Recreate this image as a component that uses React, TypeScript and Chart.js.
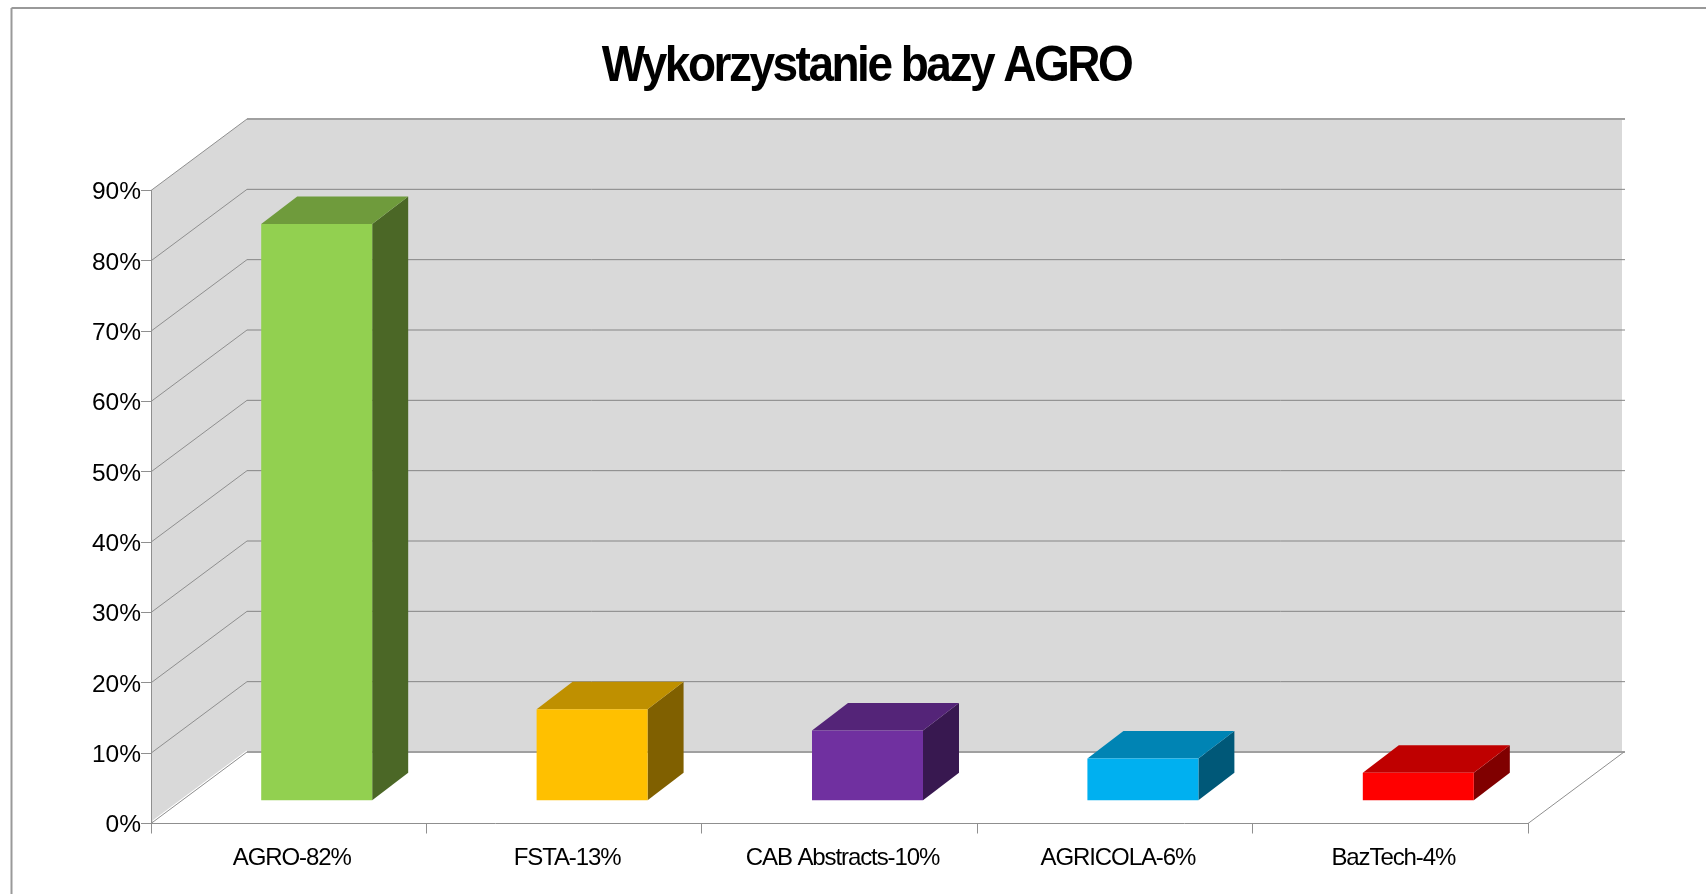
import React, { useEffect, useRef } from "react";
import { Chart, registerables } from "chart.js";

Chart.register(...registerables);

const categories = ["AGRO-82%", "FSTA-13%", "CAB Abstracts-10%", "AGRICOLA-6%", "BazTech-4%"];
const usageValues = [82, 13, 10, 6, 4];
const titleText = "Wykorzystanie bazy AGRO";

const frontColors = ["#92d050", "#ffc000", "#7030a0", "#00b0f0", "#ff0000"];
const topColors = ["#6f9b3c", "#bf9000", "#542478", "#0084b4", "#bf0000"];
const sideColors = ["#4b6726", "#806000", "#381850", "#005878", "#800000"];

const FONT = '"Liberation Sans", Arial, sans-serif';
const WALL = { dx: 96, dy: 71.5 };
const BAR_SHIFT = { dx: 28, dy: -22.7 };
const BAR_DEPTH = { dx: 36, dy: 27.5 };
const LINE = "#8f8f8f";

function poly(ctx: CanvasRenderingContext2D, pts: number[][], fill: string) {
  ctx.beginPath();
  pts.forEach(([x, y], i) => (i ? ctx.lineTo(x, y) : ctx.moveTo(x, y)));
  ctx.closePath();
  ctx.fillStyle = fill;
  ctx.fill();
}

function seg(ctx: CanvasRenderingContext2D, x1: number, y1: number, x2: number, y2: number, color: string, w = 1) {
  ctx.beginPath();
  ctx.moveTo(x1, y1);
  ctx.lineTo(x2, y2);
  ctx.strokeStyle = color;
  ctx.lineWidth = w;
  ctx.stroke();
}

const pseudo3d = {
  id: "pseudo3d",
  beforeDraw(chart: any) {
    const { ctx, chartArea: a, scales } = chart;
    const yS = scales.y;
    const xS = scales.x;
    ctx.save();
    seg(ctx, 11.5, 8, 1706, 8, "#999999", 2);
    seg(ctx, 11.5, 8, 11.5, 894, "#999999", 2);
    const yTop = yS.getPixelForValue(90);
    const yBase = yS.getPixelForValue(0);
    const backL = a.left + WALL.dx;
    const backR = a.right + WALL.dx;
    poly(ctx, [[a.left, yTop], [backL, yTop - WALL.dy], [backL, yBase - WALL.dy], [a.left, yBase]], "#d9d9d9");
    poly(ctx, [[backL, yTop - WALL.dy], [backR - 2, yTop - WALL.dy], [backR - 2, yBase - WALL.dy], [backL, yBase - WALL.dy]], "#d9d9d9");
    seg(ctx, a.left + 2, yBase - 2.5, backL, yBase - WALL.dy - 1, "#ffffff", 1.5);
    yS.ticks.forEach((t: any) => {
      const y = yS.getPixelForValue(t.value);
      const edge = t.value === 0 || t.value === 90;
      seg(ctx, a.left, y, backL, y - WALL.dy, LINE, 1);
      seg(ctx, backL, y - WALL.dy, backR + 1, y - WALL.dy, edge ? "#a0a0a0" : "#858585", edge ? 1.8 : 1);
    });
    seg(ctx, a.right, yBase, backR, yBase - WALL.dy, LINE, 1);
    if (!chart.$wrapped) {
      chart.$wrapped = true;
      const drawXLabels = xS.drawLabels;
      xS.drawLabels = function (area: any) {
        ctx.save();
        ctx.letterSpacing = "-1.1px";
        ctx.translate(3, 0);
        drawXLabels.call(this, area);
        ctx.restore();
      };
      const drawYLabels = yS.drawLabels;
      yS.drawLabels = function (area: any) {
        ctx.save();
        ctx.translate(0, 2.2);
        drawYLabels.call(this, area);
        ctx.restore();
      };
      const tb = chart.titleBlock;
      const drawTitle = tb.draw;
      tb.draw = function () {
        ctx.save();
        ctx.letterSpacing = "-2.5px";
        ctx.translate(102.5, 67.5);
        ctx.scale(1, 1.09);
        ctx.translate(0, -65);
        drawTitle.call(this);
        ctx.restore();
      };
    }
    ctx.restore();
  },
  beforeDatasetsDraw(chart: any) {
    const { ctx } = chart;
    ctx.save();
    ctx.translate(BAR_SHIFT.dx, BAR_SHIFT.dy);
    const meta = chart.getDatasetMeta(0);
    meta.data.forEach((bar: any, i: number) => {
      const { x, y, base, width } = bar.getProps(["x", "y", "base", "width"]);
      const l = x - width / 2;
      const r = x + width / 2;
      poly(ctx, [[r, y], [r + BAR_DEPTH.dx, y - BAR_DEPTH.dy], [r + BAR_DEPTH.dx, base - BAR_DEPTH.dy], [r, base]], sideColors[i]);
      poly(ctx, [[l, y], [l + BAR_DEPTH.dx, y - BAR_DEPTH.dy], [r + BAR_DEPTH.dx, y - BAR_DEPTH.dy], [r, y]], topColors[i]);
    });
  },
  afterDatasetsDraw(chart: any) {
    chart.ctx.restore();
  },
};

export default function App() {
  const ref = useRef<HTMLCanvasElement | null>(null);
  useEffect(() => {
    const chart = new Chart(ref.current as HTMLCanvasElement, {
      type: "bar",
      data: {
        labels: categories,
        datasets: [
          {
            data: usageValues,
            backgroundColor: frontColors,
            borderWidth: 0,
            barPercentage: 0.403,
            categoryPercentage: 1,
            clip: false,
          } as any,
        ],
      },
      plugins: [pseudo3d as any],
      options: {
        responsive: false,
        animation: false,
        layout: { padding: { left: 0, right: 178, top: 0, bottom: 10.5 } },
        plugins: {
          legend: { display: false },
          tooltip: { enabled: false },
          title: {
            display: true,
            text: titleText,
            color: "#000000",
            font: { family: FONT, size: 46, weight: "bold", lineHeight: 1.2 },
            padding: { top: 37.4, bottom: 97.9 },
          },
        },
        scales: {
          x: {
            offset: true,
            grid: { offset: true, drawOnChartArea: false, drawTicks: true, tickLength: 10, color: LINE },
            border: { display: true, color: LINE, width: 1 },
            ticks: { color: "#000000", font: { family: FONT, size: 24 }, padding: 10, maxRotation: 0, autoSkip: false },
            afterFit(s: any) {
              s.height = 60;
            },
          },
          y: {
            min: 0,
            max: 90,
            grid: { drawOnChartArea: false, drawTicks: true, tickLength: 10, color: LINE },
            border: { display: true, color: LINE, width: 1 },
            ticks: {
              stepSize: 10,
              color: "#000000",
              padding: 0,
              font: { family: FONT, size: 24.5 },
              callback: (v: any) => `${v}%`,
            },
            afterFit(s: any) {
              s.width = 151;
            },
          },
        },
      } as any,
    });
    return () => chart.destroy();
  }, []);
  return (
    <div style={{ position: "fixed", left: 0, top: 0, width: 1706, height: 894, background: "#ffffff", overflow: "hidden" }}>
      <canvas ref={ref} width={1706} height={894} style={{ display: "block" }} />
    </div>
  );
}
